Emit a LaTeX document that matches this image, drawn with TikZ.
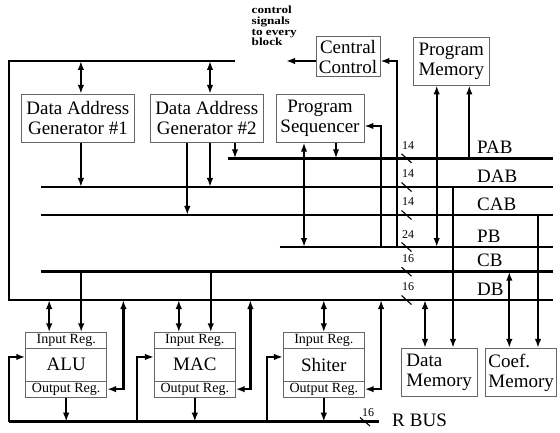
\documentclass[tikz,border=0pt]{standalone}
\usepackage{fontspec}
\setmainfont{Liberation Serif}
\usetikzlibrary{arrows.meta,calc}
\newcommand\bigtxt{\fontsize{19}{20}\selectfont}
\newcommand\regtxt{\fontsize{14}{14}\selectfont}
\newcommand\wtxt{\fontsize{12}{12}\selectfont}
\newcommand\ctltxt{\fontsize{11}{10.5}\selectfont\bfseries}
\begin{document}
\begin{tikzpicture}[x=1pt,y=-1pt,
  bus/.style={line width=2.7pt},
  conn/.style={line width=2.2pt},
  arr/.style={conn,-{Latex[length=9pt,width=6.5pt]}},
  darr/.style={conn,{Latex[length=9pt,width=6.5pt]}-{Latex[length=9pt,width=6.5pt]}},
  box/.style={draw=black!60,line width=0.8pt,inner sep=0pt,align=center,font=\bigtxt},
  regbox/.style={draw=black!60,line width=0.8pt,inner sep=0pt,minimum width=81pt,font=\regtxt},
  lbl/.style={font=\bigtxt,inner sep=0pt,anchor=west},
  wl/.style={font=\wtxt,inner sep=0pt},
  slash/.style={line width=1.1pt}]
\useasboundingbox (0,0) rectangle (560,433);

% bus coordinates
\coordinate (pabL) at (227.7,158.3); \coordinate (pabR) at (553,158.3);
\coordinate (dabL) at (41,187);      \coordinate (dabR) at (553,187);
\coordinate (cabL) at (41,215);      \coordinate (cabR) at (553,215);
\coordinate (pbL) at (279.5,247);    \coordinate (pbR) at (553,247);
\coordinate (cbL) at (41,271.7);     \coordinate (cbR) at (553,271.7);
\coordinate (dbR) at (553,300);
\coordinate (loopA) at (235,61); \coordinate (loopB) at (9,61); \coordinate (loopC) at (9,300);
\coordinate (rbL) at (9,421.7); \coordinate (rbR) at (379.3,421.7);
\coordinate (ctl) at (286,61);

% buses
\draw[bus] (loopA) -- (loopB) -- (loopC) -- (dbR);
\draw[bus] (pabL) -- (pabR);
\draw[bus] (dabL) -- (dabR);
\draw[bus] (cabL) -- (cabR);
\draw[bus] (pbL) -- (pbR);
\draw[bus] (cbL) -- (cbR);
\draw[bus] (rbL) -- (rbR);

% boxes
\node[box,minimum width=112.3pt,minimum height=48.4pt] (dag1) at (77.9,118.5) {Data Address\\Generator \#1};
\node[box,minimum width=113.3pt,minimum height=48.4pt] (dag2) at (206.7,118.5) {Data Address\\Generator \#2};
\node[box,minimum width=88pt,minimum height=48pt] (ps) at (320,118.3) {Program\\Sequencer};
\node[box,minimum width=64pt,minimum height=40pt] (cc) at (348,56.7) {Central\\Control};
\node[box,minimum width=76pt,minimum height=47.7pt] (pm) at (451.3,61.2) {Program\\Memory};
\node[box,align=left,minimum width=76.3pt,minimum height=48.4pt] (dm) at (439.2,372.5) {Data\\Memory};
\node[box,align=left,minimum width=71pt,minimum height=48.4pt] (cm) at (521.2,372.5) {Coef.\\Memory};

\foreach \n/\cx/\t in {alu/66.2/ALU,mac/194.8/MAC,sh/323.8/Shiter}{
  \node[regbox,minimum height=15.6pt] (\n-in) at (\cx,340.5) {Input Reg.};
  \node[regbox,minimum height=32.7pt,font=\bigtxt] (\n) at (\cx,364.65) {\t};
  \node[regbox,minimum height=16.3pt] (\n-out) at (\cx,389.15) {Output Reg.};
}

% control text
\node[font=\ctltxt,inner sep=0pt,anchor=north west] (ctltext) at (251.5,6)
  {\scalebox{1.2}[1]{\begin{tabular}{@{}l@{}}control\\signals\\to every\\block\end{tabular}}};

% top connectors
\draw[darr] ([xshift=3pt]dag1.north |- loopA) -- ([xshift=3pt]dag1.north);
\draw[darr] ([xshift=3.3pt]dag2.north |- loopA) -- ([xshift=3.3pt]dag2.north);
\draw[arr] ([xshift=3pt]dag1.south) -- ([xshift=3pt]dag1.south |- dabL);
\draw[arr] ([xshift=-19.4pt]dag2.south) -- ([xshift=-19.4pt]dag2.south |- cabL);
\draw[arr] ([xshift=3.3pt]dag2.south) -- ([xshift=3.3pt]dag2.south |- dabL);
\draw[arr] ([xshift=28.3pt]dag2.south) -- ([xshift=28.3pt]dag2.south |- pabL);
\draw[arr] ([xshift=16pt]ps.south) -- ([xshift=16pt]ps.south |- pabL);
\draw[darr] ([xshift=-16pt]ps.south) -- ([xshift=-16pt]ps.south |- pbL);
\draw[arr] ([xshift=16.7pt]ps.east |- pbL) |- ([yshift=-7.7pt]ps.east);
\draw[arr] ([xshift=16.7pt]cc.east |- pbL) |- ([yshift=-4.3pt]cc.east);
\draw[arr] ([yshift=-4.3pt]cc.west) -- (ctl);
\draw[arr] ([xshift=18pt]pm.south |- pabL) -- ([xshift=18pt]pm.south);
\draw[darr] ([xshift=-14.6pt]pm.south |- pbL) -- ([xshift=-14.6pt]pm.south);

% memories
\draw[darr] ([xshift=-14.2pt]dm.north |- dbR) -- ([xshift=-14.2pt]dm.north);
\draw[arr] ([xshift=13.8pt]dm.north |- dabL) -- ([xshift=13.8pt]dm.north);
\draw[darr] ([xshift=-11.9pt]cm.north |- cbL) -- ([xshift=-11.9pt]cm.north);
\draw[arr] ([xshift=16.8pt]cm.north |- cabL) -- ([xshift=16.8pt]cm.north);

% ALU
\draw[darr] ([xshift=-17pt]alu-in.north |- dbR) -- ([xshift=-17pt]alu-in.north);
\draw[arr] ([xshift=15pt]alu-in.north |- cbL) -- ([xshift=15pt]alu-in.north);
\draw[darr] (alu-out.east) -| ([xshift=16.3pt]alu-out.east |- dbR);
\draw[arr] (alu-out.south) -- (alu-out.south |- rbL);
\draw[arr] (rbL) |- ([yshift=7.7pt]alu.west);
% MAC
\draw[darr] ([xshift=-16pt]mac-in.north |- dbR) -- ([xshift=-16pt]mac-in.north);
\draw[arr] ([xshift=16pt]mac-in.north |- cbL) -- ([xshift=16pt]mac-in.north);
\draw[darr] (mac-out.east) -| ([xshift=14.7pt]mac-out.east |- dbR);
\draw[arr] (mac-out.south) -- (mac-out.south |- rbL);
\draw[arr] ([xshift=-16.6pt]mac.west |- rbL) |- ([yshift=7.7pt]mac.west);
% Shifter
\draw[darr] (sh-in.north |- dbR) -- (sh-in.north);
\draw[darr] (sh-out.east) -| ([xshift=16.4pt]sh-out.east |- dbR);
\draw[arr] (sh-out.south) -- (sh-out.south |- rbL);
\draw[arr] ([xshift=-15.6pt]sh.west |- rbL) |- ([yshift=7.7pt]sh.west);

% bus labels
\node[lbl] (lpab) at (477,147.5) {PAB};
\node[lbl] (ldab) at (477,176.7) {DAB};
\node[lbl] (lcab) at (477,204) {CAB};
\node[lbl] (lpb) at (477,236.7) {PB};
\node[lbl] (lcb) at (477,260.8) {CB};
\node[lbl] (ldb) at (477,289.7) {DB};
\node[lbl] (lrb) at (392,420) {R\hspace{5pt}BUS};

% width labels
\foreach \yb/\yl/\w in {158.3/146/14,187/173.3/14,215/201.7/14,247/235/24,271.7/258.3/16,300/286.7/16}{
  \node[wl] at (408,\yl) {\w};
  \draw[slash] (401.5,\yb-4.5) -- (411.5,\yb+4.5);
}
\node[wl] (w16r) at (368,413) {16};
\draw[slash] (360,417.5) -- (370,426);
\end{tikzpicture}
\end{document}
